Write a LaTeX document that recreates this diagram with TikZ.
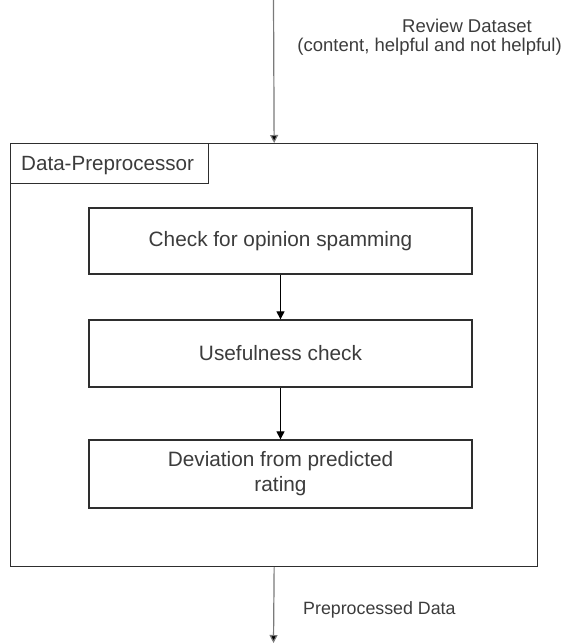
\documentclass[tikz,border=0pt]{standalone}
\usepackage{fontspec}
\setmainfont{Liberation Sans}
\usetikzlibrary{arrows.meta}
\definecolor{ink}{HTML}{3C3C3C}
\definecolor{edge}{HTML}{2E2E2E}
\definecolor{flow}{HTML}{7A7A7A}
\tikzset{
  stepbox/.style={draw=edge, line width=1.3pt, minimum width=383pt, inner sep=0pt,
    text=ink, align=center, font=\fontsize{20.8}{25}\selectfont},
  frame/.style={draw=edge, line width=1.3pt, inner sep=0pt, anchor=north west},
  inner arrow/.style={draw=black, line width=1.2pt, -{Triangle[width=8pt,length=8pt]}},
  outer arrow/.style={draw=flow, line width=1.2pt, -{Triangle[width=8pt,length=8pt,fill=black]}},
  label/.style={text=ink, inner sep=0pt, font=\fontsize{18.5}{22}\selectfont},
}
\begin{document}
\begin{tikzpicture}[x=1pt, y=-1pt]
  \useasboundingbox (0,0) rectangle (563,644);
  \fill[white] (0,0) rectangle (563,644);

  % enclosing pre-processing frame and its title tab
  \node[frame, minimum width=527pt, minimum height=423pt] (outer) at (10,143) {};
  \node[frame, minimum width=198pt, minimum height=40pt] (title) at (10,143) {};
  \node[label, anchor=base west, font=\fontsize{20.6}{24}\selectfont] (titletext) at (21,171) {Data-Preprocessor};

  % processing steps
  \node[stepbox, minimum height=66pt] (s1) at (280.5,241) {Check for opinion spamming};
  \node[stepbox, minimum height=67pt] (s2) at (280.5,353.5) {Usefulness check};
  \node[stepbox, minimum height=68pt] (s3) at (280.5,474) {Deviation from predicted\\rating};

  \draw[inner arrow] (s1) -- (s2);
  \draw[inner arrow] (s2) -- (s3);

  % data entering and leaving the frame
  \coordinate (src) at (273.5,0);
  \coordinate (dst) at (273.5,643);
  \draw[outer arrow] (src) -- (outer.north);
  \draw[outer arrow] (outer.south) -- (dst);

  \node[label, anchor=base] (in1) at (467,33) {Review Dataset};
  \node[label, anchor=base east] (in2) at (562,52) {(content, helpful and not helpful)};
  \node[label, anchor=base west, font=\fontsize{17.8}{21}\selectfont] (out) at (303,614) {Preprocessed Data};
\end{tikzpicture}
\end{document}
